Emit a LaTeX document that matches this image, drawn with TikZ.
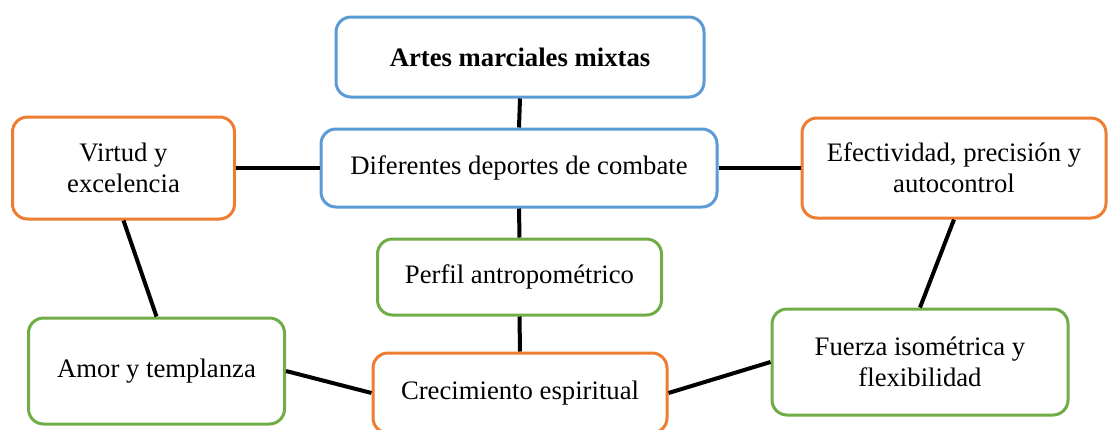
\documentclass[tikz,border=0pt]{standalone}
\usepackage{fontspec}
\setmainfont{Liberation Serif}
\definecolor{mblue}{HTML}{5B9BD5}
\definecolor{morange}{HTML}{ED7D31}
\definecolor{mgreen}{HTML}{70AD47}
\begin{document}
\begin{tikzpicture}[x=0.5pt,y=-0.5pt,
  box/.style={draw, line width=1.5pt, rounded corners=7.5pt, fill=white, align=center, inner sep=0pt,
    font=\fontsize{13.35}{15.5}\selectfont},
  bluebox/.style={box, draw=mblue},
  orangebox/.style={box, draw=morange},
  greenbox/.style={box, draw=mgreen},
  link/.style={line width=2pt, black}]
\useasboundingbox (0,0) rectangle (1108,429);
\node[bluebox, minimum width=184pt, minimum height=40pt] (n1) at (520,57) {\textbf{Artes marciales mixtas}};
\node[bluebox, minimum width=198pt, minimum height=39pt] (n2) at (519,168) {Diferentes deportes de combate};
\node[orangebox, minimum width=111pt, minimum height=51pt] (n3) at (123.5,168) {Virtud y\\excelencia};
\node[orangebox, minimum width=152pt, minimum height=50pt] (n4) at (954,168) {Efectividad, precisión y\\autocontrol};
\node[greenbox, minimum width=142pt, minimum height=38pt] (n5) at (519.5,277) {Perfil antropométrico};
\node[greenbox, minimum width=128pt, minimum height=53pt] (n6) at (156.5,371) {Amor y templanza};
\node[orangebox, minimum width=147pt, minimum height=40pt] (n7) at (520,393) {Crecimiento espiritual};
\node[greenbox, minimum width=148pt, minimum height=53pt] (n8) at (920,362) {Fuerza isométrica y\\flexibilidad};
\draw[link] (n1.south) -- (n2.north);
\draw[link] (n3.east) -- (n2.west);
\draw[link] (n2.east) -- (n4.west);
\draw[link] (n2.south) -- (n5.north);
\draw[link] (n5.south) -- (n7.north);
\draw[link] (n3.south) -- (n6.north);
\draw[link] (n4.south) -- (n8.north);
\draw[link] (n6.east) -- (n7.west);
\draw[link] (n7.east) -- (n8.west);
\end{tikzpicture}
\end{document}
